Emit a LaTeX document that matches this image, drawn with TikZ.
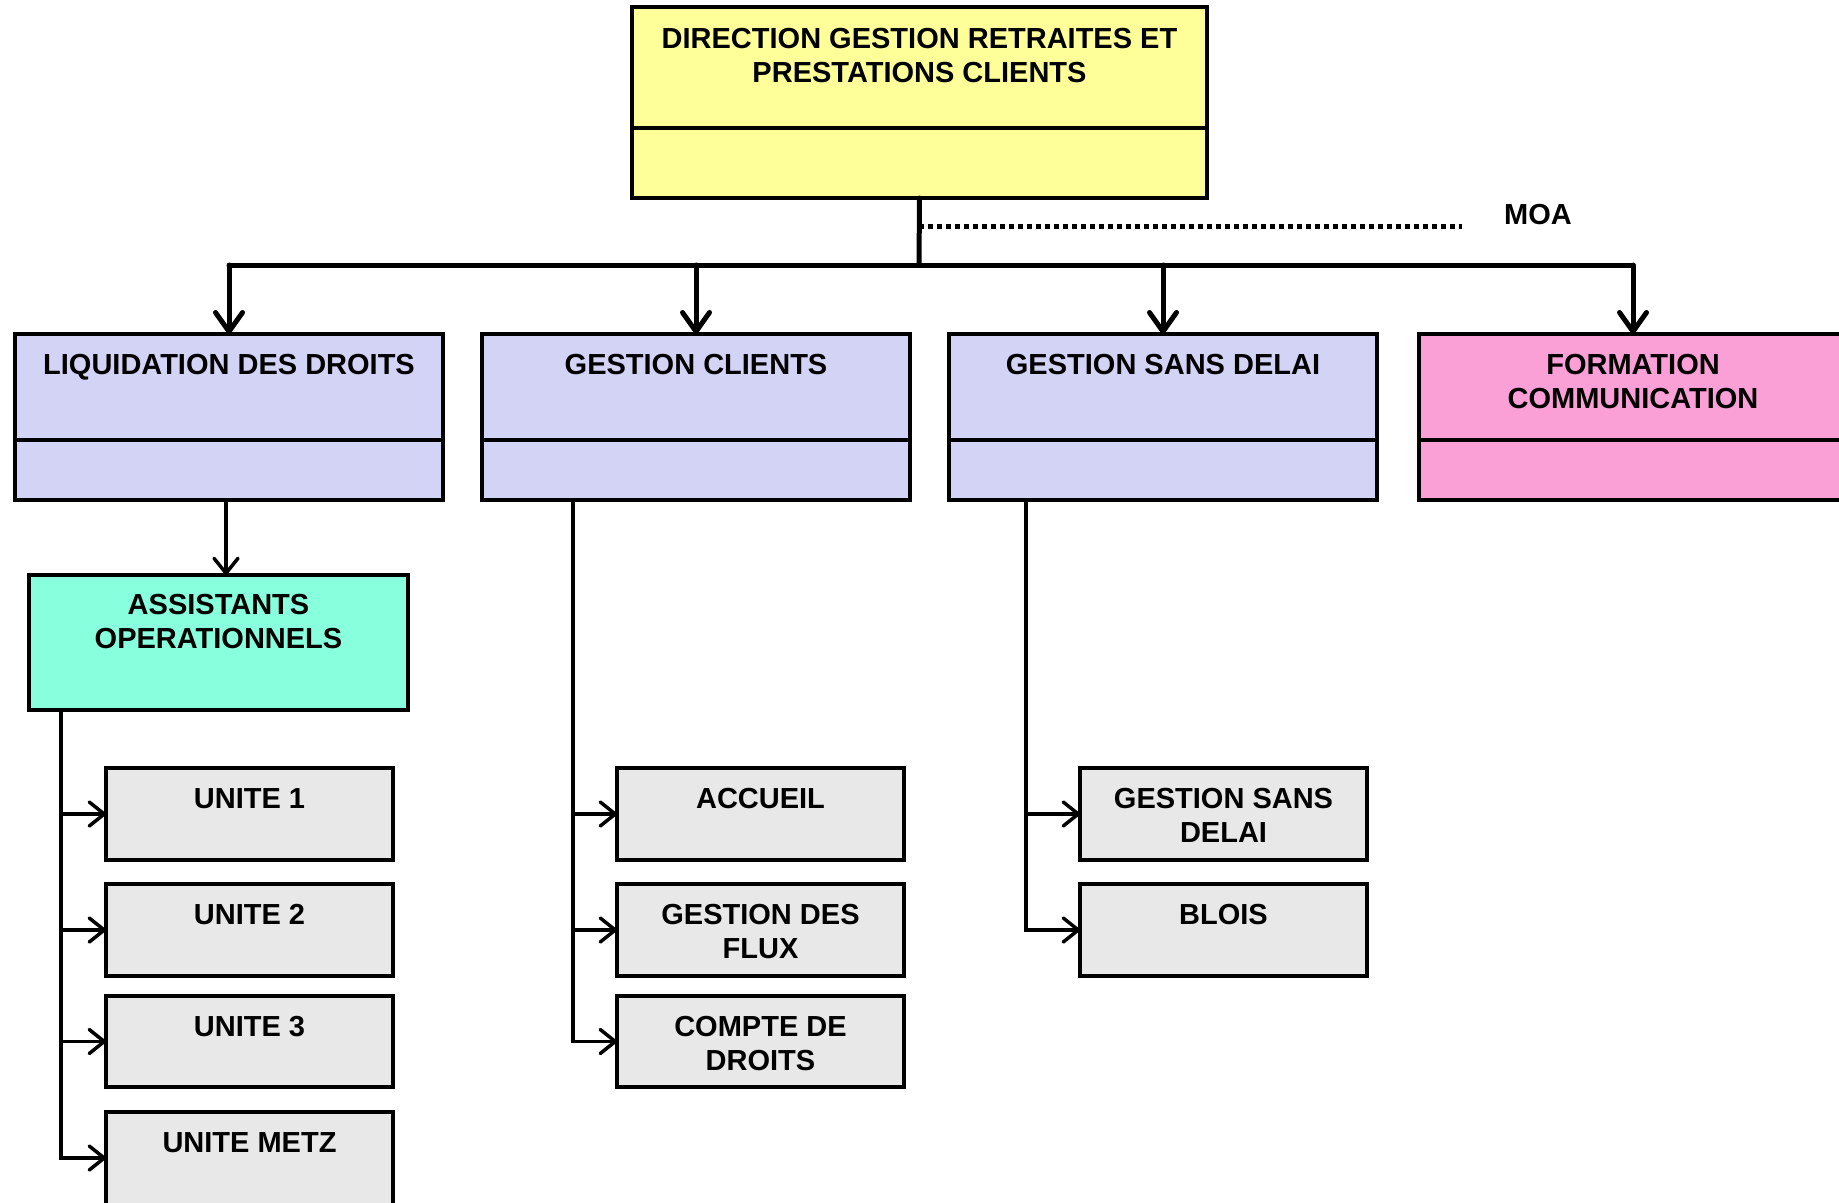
\documentclass[tikz,border=0pt]{standalone}
\usepackage{fontspec}
\setmainfont{Liberation Sans}
\usetikzlibrary{arrows.meta}
\definecolor{cyel}{RGB}{255,255,153}
\definecolor{clav}{RGB}{211,211,245}
\definecolor{cpink}{RGB}{250,160,215}
\definecolor{caqua}{RGB}{136,255,221}
\definecolor{cgray}{RGB}{232,232,232}
\tikzset{
  box/.style={draw=black, line width=4.5pt, rectangle, anchor=north west, inner sep=0pt, outer sep=0pt},
  txt/.style={anchor=north, align=center, inner sep=0pt, font=\fontsize{29}{34}\selectfont\bfseries},
  divider/.style={draw=black, line width=4.5pt},
  mainline/.style={line width=5pt, line cap=round, line join=miter},
  mainarr/.style={mainline, -{Straight Barb[length=19pt, width=27pt, round]}},
  subline/.style={line width=3.5pt, line join=miter},
  subarr/.style={subline, -{Straight Barb[length=15pt, width=24pt, round]}},
  moadots/.style={line width=5pt, dash pattern=on 4.5pt off 4.5pt}
}
\begin{document}
\begin{tikzpicture}[x=1pt, y=-1pt]
\useasboundingbox (0,0) rectangle (1839,1202);
\clip (0,0) rectangle (1839,1202);
\fill[white] (0,0) rectangle (1839,1202);

% top box
\node[box, fill=cyel, minimum width=575, minimum height=191] (top) at (632,7) {};
\draw[divider] ([yshift=-121]top.north west) -- ([yshift=-121]top.north east);
\node[txt] (topt) at (919.5,28) {DIRECTION GESTION RETRAITES ET\\PRESTATIONS CLIENTS};

% level 2
\node[box, fill=clav, minimum width=428, minimum height=166] (liq) at (15,334) {};
\node[box, fill=clav, minimum width=428, minimum height=166] (gc) at (482,334) {};
\node[box, fill=clav, minimum width=428, minimum height=166] (gsd) at (949,334) {};
\node[box, fill=cpink, minimum width=428, minimum height=166] (form) at (1419,334) {};
\foreach \n in {liq,gc,gsd,form}{
  \draw[divider] ([yshift=-106]\n.north west) -- ([yshift=-106]\n.north east);
}
\node[txt] (liqt) at (229,354) {LIQUIDATION DES DROITS};
\node[txt] (gct) at (696,354) {GESTION CLIENTS};
\node[txt] (gsdt) at (1163,354) {GESTION SANS DELAI};
\node[txt] (formt) at (1633,354) {FORMATION\\COMMUNICATION};

% assistants
\node[box, fill=caqua, minimum width=379, minimum height=135] (assist) at (29,575) {};
\node[txt] (assistt) at (218.5,594) {ASSISTANTS\\OPERATIONNELS};

% unites
\node[box, fill=cgray, minimum width=287, minimum height=92] (u1) at (106,768) {};
\node[box, fill=cgray, minimum width=287, minimum height=92] (u2) at (106,884) {};
\node[box, fill=cgray, minimum width=287, minimum height=91] (u3) at (106,996) {};
\node[box, fill=cgray, minimum width=287, minimum height=100] (u4) at (106,1112) {};
\node[txt] (u1t) at (249.5,788) {UNITE 1};
\node[txt] (u2t) at (249.5,904) {UNITE 2};
\node[txt] (u3t) at (249.5,1016) {UNITE 3};
\node[txt] (u4t) at (249.5,1132) {UNITE METZ};

% gestion clients children
\node[box, fill=cgray, minimum width=287, minimum height=92] (acc) at (617,768) {};
\node[box, fill=cgray, minimum width=287, minimum height=92] (gdf) at (617,884) {};
\node[box, fill=cgray, minimum width=287, minimum height=91] (cdd) at (617,996) {};
\node[txt] (acct) at (760.5,788) {ACCUEIL};
\node[txt] (gdft) at (760.5,904) {GESTION DES\\FLUX};
\node[txt] (cddt) at (760.5,1016) {COMPTE DE\\DROITS};

% gestion sans delai children
\node[box, fill=cgray, minimum width=287, minimum height=92] (gsd1) at (1080,768) {};
\node[box, fill=cgray, minimum width=287, minimum height=92] (blois) at (1080,884) {};
\node[txt] (gsd1t) at (1223.5,788) {GESTION SANS\\DELAI};
\node[txt] (bloist) at (1223.5,904) {BLOIS};

% top connectors
\coordinate (bus) at (919,265);
\coordinate (moastart) at (919,226);
\coordinate (moaend) at (1462,226);
\draw[mainline] (top.south) -- (bus);
\draw[moadots] (moastart) -- (moaend);
\node[font=\fontsize{29}{34}\selectfont\bfseries, inner sep=0pt] (moa) at (1538,215) {MOA};
\draw[mainline] (bus) -- (bus -| liq.north) ;
\draw[mainline] (bus) -- (bus -| form.north);
\draw[mainarr] (bus -| liq.north) -- (liq.north);
\draw[mainarr] (bus -| gc.north) -- (gc.north);
\draw[mainarr] (bus -| gsd.north) -- (gsd.north);
\draw[mainarr] (bus -| form.north) -- (form.north);

% liq -> assist
\coordinate (la) at (226,500);
\draw[subarr] (la) -- (la |- assist.north);

% assist trunk
\coordinate (at) at (61,710);
\draw[subarr] (at) |- (u1.west);
\draw[subarr] (at) |- (u2.west);
\draw[subarr] (at) |- (u3.west);
\draw[subarr] (at) |- ([yshift=-46]u4.north west);

% gc trunk
\coordinate (gtr) at (573,500);
\draw[subarr] (gtr) |- (acc.west);
\draw[subarr] (gtr) |- (gdf.west);
\draw[subarr] (gtr) |- (cdd.west);

% gsd trunk
\coordinate (str) at (1026,500);
\draw[subarr] (str) |- (gsd1.west);
\draw[subarr] (str) |- (blois.west);
\end{tikzpicture}
\end{document}
